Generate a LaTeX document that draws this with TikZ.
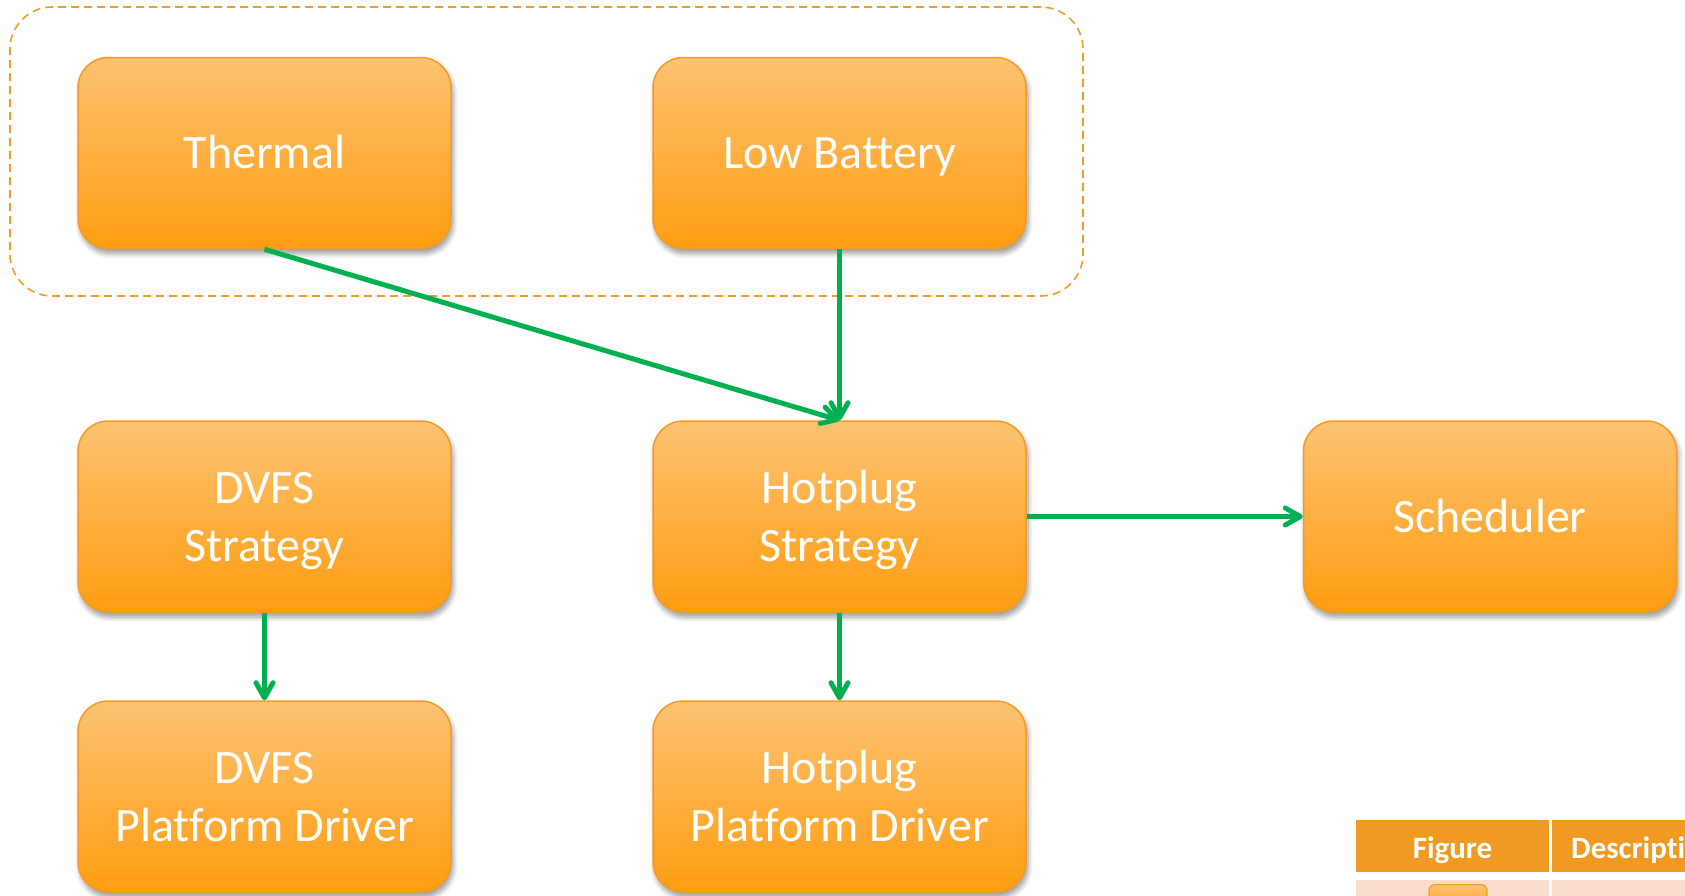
\documentclass[tikz,border=0pt]{standalone}
\usepackage{fontspec}
\setmainfont[Ligatures=NoCommon]{Carlito}
\usetikzlibrary{arrows.meta,shadows.blur}

\definecolor{boxtop}{RGB}{253,194,114}
\definecolor{boxbot}{RGB}{255,157,16}
\definecolor{boxline}{RGB}{242,155,38}
\definecolor{flow}{RGB}{0,176,80}
\definecolor{headfill}{RGB}{241,154,34}
\definecolor{rowfill}{RGB}{248,221,202}

% one text line, measured by its capitals only, so lines sit centred in a box
\newcommand\capline[1]{\rule{0pt}{31pt}\smash{#1}}

\tikzset{
  block/.style={rounded corners=30pt, draw=boxline, line width=1.5pt,
    top color=boxtop, bottom color=boxbot,
    minimum width=373pt, minimum height=191pt, inner sep=0pt,
    align=center, text=white, font=\fontsize{48}{58}\selectfont,
    blur shadow={shadow xshift=2pt, shadow yshift=-5pt, shadow blur radius=5pt,
      shadow blur steps=8, shadow opacity=40}},
  groupbox/.style={rounded corners=42pt, draw=boxline, line width=1.6pt,
    dash pattern=on 8pt off 5pt, inner sep=0pt},
  link/.style={draw=flow, line width=5pt,
    -{Straight Barb[length=15pt,width=17pt,round]}},
  headcell/.style={fill=headfill, inner sep=0pt},
  headtext/.style={text=white, inner sep=0pt,
    font=\bfseries\fontsize{31}{36}\selectfont},
  rowcell/.style={fill=rowfill, inner sep=0pt},
}

\begin{document}
\begin{tikzpicture}[x=1pt,y=-1pt]
\path[use as bounding box] (0,0) rectangle (1685,895);
\clip (0,0) rectangle (1685,895);

% event sources
\node[groupbox, minimum width=1073pt, minimum height=289pt] (grp) at (546.5,151.5) {};
\node[block] (thermal) at (264.5,153) {\capline{Thermal}};
\node[block] (lowbat)  at (839.5,153) {\capline{Low Battery}};

% strategies
\node[block] (dvfs)    at (264.5,516.5) {\capline{DVFS}\\\capline{Strategy}};
\node[block] (hotplug) at (839.5,516.5) {\capline{Hotplug}\\\capline{Strategy}};
\node[block] (sched)   at (1490,516.5) {\capline{Scheduler}};

% platform drivers
\node[block] (dvfsdrv) at (264.5,796.5) {\capline{DVFS}\\\capline{Platform Driver}};
\node[block] (hpdrv)   at (839.5,796.5) {\capline{Hotplug}\\\capline{Platform Driver}};

% connectors
\draw[link] (thermal.south) -- (hotplug.north);
\draw[link] (lowbat.south) -- (hotplug.north);
\draw[link] (hotplug.east) -- (sched.west);
\draw[link] (dvfs.south) -- (dvfsdrv.north);
\draw[link] (hotplug.south) -- (hpdrv.north);

% legend table
\node[headcell, minimum width=193pt, minimum height=52pt] (hfig) at (1452.5,846) {};
\node[headcell, minimum width=190pt, minimum height=52pt, anchor=west] (hdesc) at (1552,846) {};
\node[headtext, anchor=base] (tfig) at (1452.5,858) {Figure};
\node[headtext, anchor=base west] (tdesc) at (1571,858) {Description};
\node[rowcell, minimum width=193pt, minimum height=40pt, anchor=north] (rfig) at (1452.5,880) {};
\node[rowcell, minimum width=190pt, minimum height=40pt, anchor=north west] (rdesc) at (1552,880) {};
\node[rounded corners=6pt, draw=boxline, line width=1.2pt, top color=boxtop, bottom color=boxbot,
  minimum width=58pt, minimum height=30pt, inner sep=0pt, anchor=north] (legbox) at (1458,884) {};
\end{tikzpicture}
\end{document}
